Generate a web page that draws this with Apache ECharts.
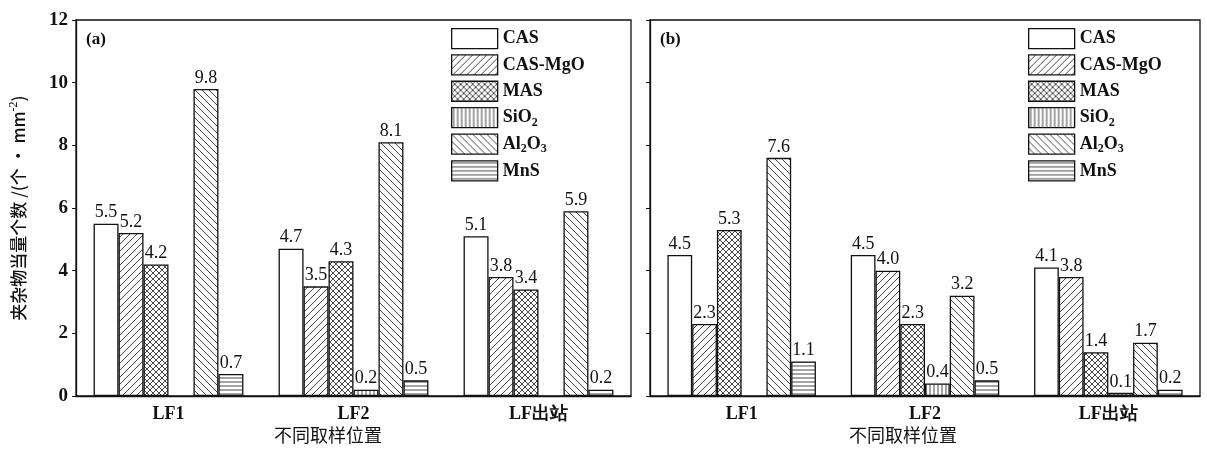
<!DOCTYPE html>
<html><head><meta charset="utf-8">
<script src="https://cdn.jsdelivr.net/npm/echarts@6/dist/echarts.min.js"></script>
<style>html,body{margin:0;padding:0;background:#fff}#c{width:1207px;height:450px}</style>
</head><body><div id="c"></div>
<script>
const categories = ['LF1', 'LF2', 'LF出站'];
const seriesNames = ['CAS', 'CAS-MgO', 'MAS', 'SiO2', 'Al2O3', 'MnS'];
const yTicks = [0, 2, 4, 6, 8, 10, 12];
// panel (a)
const a_CAS = [5.5, 4.7, 5.1];
const a_CASMgO = [5.2, 3.5, 3.8];
const a_MAS = [4.2, 4.3, 3.4];
const a_SiO2 = [null, 0.2, null];
const a_Al2O3 = [9.8, 8.1, 5.9];
const a_MnS = [0.7, 0.5, 0.2];
// panel (b)
const b_CAS = [4.5, 4.5, 4.1];
const b_CASMgO = [2.3, 4.0, 3.8];
const b_MAS = [5.3, 2.3, 1.4];
const b_SiO2 = [null, 0.4, 0.1];
const b_Al2O3 = [7.6, 3.2, 1.7];
const b_MnS = [1.1, 0.5, 0.2];

const panelA = [a_CAS, a_CASMgO, a_MAS, a_SiO2, a_Al2O3, a_MnS];
const panelB = [b_CAS, b_CASMgO, b_MAS, b_SiO2, b_Al2O3, b_MnS];

function makePattern(type) {
  const s = 7;
  const cv = document.createElement('canvas');
  let w = s, h = s;
  if (type === 'x') { w = 6; h = 6; }
  if (type === 'v' || type === 'h') { w = 4; h = 4; }
  cv.width = w; cv.height = h;
  const ctx = cv.getContext('2d');
  ctx.fillStyle = '#fff';
  ctx.fillRect(0, 0, w, h);
  ctx.strokeStyle = '#333';
  ctx.lineWidth = 0.9;
  ctx.beginPath();
  if (type === 'fwd' || type === 'x') {
    ctx.moveTo(-1, h + 1); ctx.lineTo(w + 1, -1);
    ctx.moveTo(-1 - w, h + 1); ctx.lineTo(1, -1);
    ctx.moveTo(w - 1, h + 1); ctx.lineTo(2 * w + 1, -1);
  }
  if (type === 'back' || type === 'x') {
    ctx.moveTo(-1, -1); ctx.lineTo(w + 1, h + 1);
    ctx.moveTo(-1 - w, -1); ctx.lineTo(1, h + 1);
    ctx.moveTo(w - 1, -1); ctx.lineTo(2 * w + 1, h + 1);
  }
  if (type === 'v') { ctx.moveTo(2, 0); ctx.lineTo(2, h); }
  if (type === 'h') { ctx.moveTo(0, 2); ctx.lineTo(w, 2); }
  ctx.stroke();
  return { image: cv, repeat: 'repeat' };
}
const fills = ['#ffffff', makePattern('fwd'), makePattern('x'), makePattern('v'), makePattern('back'), makePattern('h')];

const serif = 'Liberation Serif';
const cjk = 'Noto Sans CJK SC';

function legendFmt(name) {
  if (name === 'SiO2') return 'SiO{sub|2}';
  if (name === 'Al2O3') return 'Al{sub|2}O{sub|3}';
  return name;
}
const legendText = {
  fontFamily: serif, fontWeight: 'bold', fontSize: 18, color: '#111',
  rich: { sub: { fontFamily: serif, fontWeight: 'bold', fontSize: 12, color: '#111', padding: [10, 0, 0, 0] } }
};

function buildSeries(values, idx) {
  return seriesNames.map((n, i) => ({
    name: n, type: 'bar', xAxisIndex: idx, yAxisIndex: idx,
    data: values[i],
    barCategoryGap: '19%', barGap: '0%',
    itemStyle: { color: fills[i], borderColor: '#111', borderWidth: 1.3 },
    label: { show: true, position: 'top', distance: 2, fontFamily: serif, fontSize: 18, color: '#111',
      formatter: p => p.value.toFixed(1) }
  }));
}

const xAxisCommon = {
  type: 'category', data: categories,
  axisTick: { show: false },
  axisLine: { lineStyle: { color: '#111', width: 1.3 } },
  axisLabel: { fontFamily: serif, fontWeight: 'bold', fontSize: 18, color: '#111', margin: 9 }
};
const yAxisCommon = {
  type: 'value', min: 0, max: 12, interval: 2,
  splitLine: { show: false },
  axisLine: { show: true, lineStyle: { color: '#111', width: 1.3 } },
  axisTick: { show: true, length: 4, lineStyle: { color: '#111' } }
};

const option = {
  animation: false,
  backgroundColor: '#fff',
  grid: [
    { left: 76, width: 555, top: 20, height: 376, show: true, borderColor: '#111', borderWidth: 1.3 },
    { left: 650, width: 550, top: 20, height: 376, show: true, borderColor: '#111', borderWidth: 1.3 }
  ],
  legend: [
    { orient: 'vertical', left: 451, top: 28, padding: 0, itemWidth: 46, itemHeight: 20, itemGap: 5, icon: 'rect',
      data: seriesNames, formatter: legendFmt, textStyle: legendText, itemStyle: { borderColor: '#111', borderWidth: 1.3 }, selectedMode: false },
    { orient: 'vertical', left: 1028, top: 28, padding: 0, itemWidth: 46, itemHeight: 20, itemGap: 5, icon: 'rect',
      data: seriesNames, formatter: legendFmt, textStyle: legendText, itemStyle: { borderColor: '#111', borderWidth: 1.3 }, selectedMode: false }
  ],
  xAxis: [
    Object.assign({ gridIndex: 0 }, xAxisCommon),
    Object.assign({ gridIndex: 1 }, xAxisCommon)
  ],
  yAxis: [
    Object.assign({ gridIndex: 0,
      axisLabel: { fontFamily: serif, fontWeight: 'bold', fontSize: 19, color: '#111', margin: 8,
        formatter: v => yTicks.includes(v) ? String(v) : '' },
      name: '夹杂物当量个数 /(个 · mm{sup|-2})', nameLocation: 'middle', nameGap: 46,
      nameTextStyle: { fontFamily: cjk, fontSize: 17, fontWeight: 500, color: '#111',
        rich: { sup: { fontFamily: serif, fontSize: 12, color: '#111', padding: [0, 0, 10, 0] } } }
    }, yAxisCommon),
    Object.assign({ gridIndex: 1, axisLabel: { show: false } }, yAxisCommon)
  ],
  graphic: [
    { type: 'text', left: 86, top: 31, style: { text: '(a)', fontFamily: serif, fontWeight: 'bold', fontSize: 17, fill: '#111' } },
    { type: 'text', left: 660, top: 31, style: { text: '(b)', fontFamily: serif, fontWeight: 'bold', fontSize: 17, fill: '#111' } },
    { type: 'text', left: 274, top: 426, style: { text: '不同取样位置', fontFamily: cjk, fontSize: 18, fill: '#111' } },
    { type: 'text', left: 849, top: 426, style: { text: '不同取样位置', fontFamily: cjk, fontSize: 18, fill: '#111' } }
  ],
  series: buildSeries(panelA, 0).concat(buildSeries(panelB, 1))
};
const chart = echarts.init(document.getElementById('c'), null, { renderer: 'canvas' });
chart.setOption(option);
</script>
</body></html>
